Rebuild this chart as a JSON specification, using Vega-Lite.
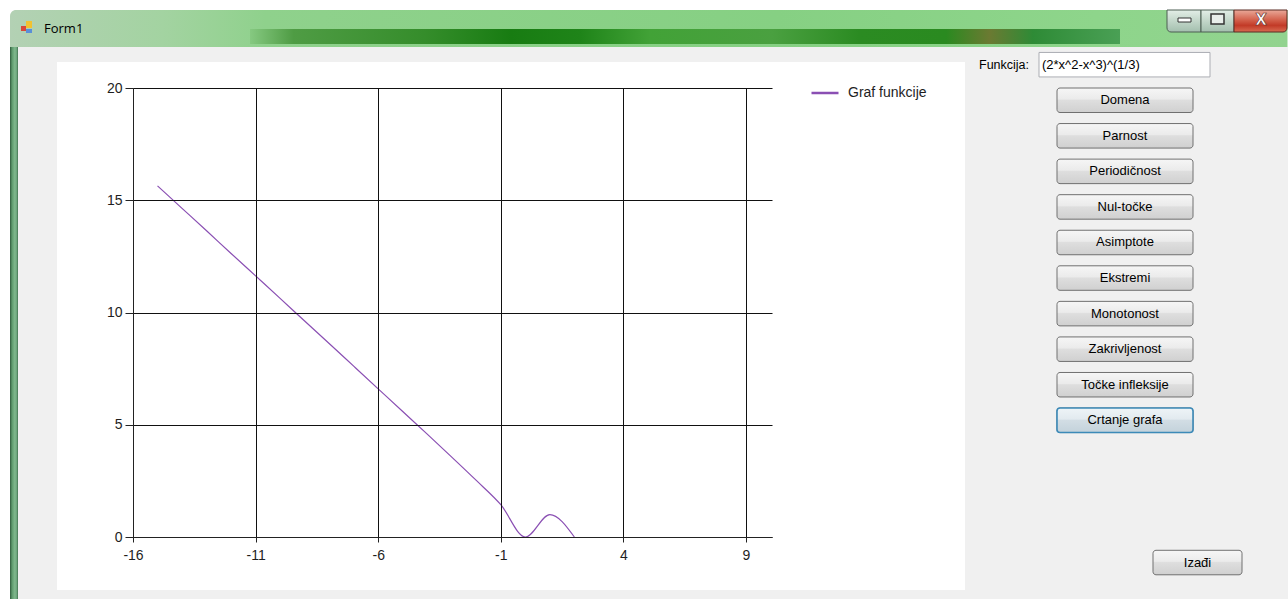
{
  "$schema": "https://vega.github.io/schema/vega-lite/v6.json",
  "background": "#f0f0f0",
  "padding": 0,
  "spacing": 0,
  "resolve": {"scale": {"color": "independent"}, "legend": {"color": "independent"}},
  "config": {
    "view": {"stroke": null},
    "font": "Liberation Sans",
    "concat": {"spacing": 0},
    "axis": {"grid": true, "gridColor": "#111111", "gridOpacity": 1, "gridWidth": 1, "domainColor": "#222222", "domainWidth": 1, "tickColor": "#222222", "labelFont": "Liberation Sans", "labelFontSize": 14, "labelColor": "#1e1e1e"},
    "axisX": {"tickSize": 5, "labelPadding": 6, "labelFlush": false},
    "axisY": {"tickSize": 8, "labelPadding": 3},
    "legend": {"padding": 0, "labelFont": "Liberation Sans", "labelFontSize": 14, "labelColor": "#1e1e1e", "symbolType": "stroke", "symbolSize": 729, "symbolStrokeWidth": 2.5, "labelOffset": 8}
  },
  "datasets": {
    "curve": [
      {"x": -15, "y": 15.64, "series": "Graf funkcije"},
      {"x": -14, "y": 14.64, "series": "Graf funkcije"},
      {"x": -13, "y": 13.64, "series": "Graf funkcije"},
      {"x": -12, "y": 12.63, "series": "Graf funkcije"},
      {"x": -11, "y": 11.63, "series": "Graf funkcije"},
      {"x": -10, "y": 10.63, "series": "Graf funkcije"},
      {"x": -9, "y": 9.62, "series": "Graf funkcije"},
      {"x": -8, "y": 8.62, "series": "Graf funkcije"},
      {"x": -7, "y": 7.61, "series": "Graf funkcije"},
      {"x": -6, "y": 6.6, "series": "Graf funkcije"},
      {"x": -5, "y": 5.59, "series": "Graf funkcije"},
      {"x": -4, "y": 4.58, "series": "Graf funkcije"},
      {"x": -3, "y": 3.56, "series": "Graf funkcije"},
      {"x": -2, "y": 2.52, "series": "Graf funkcije"},
      {"x": -1, "y": 1.44, "series": "Graf funkcije"},
      {"x": 0, "y": 0, "series": "Graf funkcije"},
      {"x": 1, "y": 1, "series": "Graf funkcije"},
      {"x": 2, "y": 0, "series": "Graf funkcije"}
    ],
    "buttons": [
      {"item": "Domena"},
      {"item": "Parnost"},
      {"item": "Periodičnost"},
      {"item": "Nul-točke"},
      {"item": "Asimptote"},
      {"item": "Ekstremi"},
      {"item": "Monotonost"},
      {"item": "Zakrivljenost"},
      {"item": "Točke infleksije"},
      {"item": "Crtanje grafa"}
    ]
  },
  "vconcat": [
    {
      "width": 1155,
      "height": 47,
      "view": {"stroke": null},
      "data": {"values": [{"part": "window"}]},
      "layer": [
        {
          "mark": {"type": "rect", "fill": "#ffffff"},
          "encoding": {
            "x": {"datum": 0, "type": "quantitative", "scale": {"domain": [133, 1288], "nice": false, "zero": false}, "axis": null},
            "x2": {"datum": 1288},
            "y": {"datum": 0, "type": "quantitative", "scale": {"domain": [0, 47], "reverse": true, "nice": false, "zero": false}, "axis": null},
            "y2": {"datum": 47}
          }
        },
        {
          "mark": {"type": "rect", "cornerRadiusTopLeft": 6, "fill": {"gradient": "linear", "x1": 0, "y1": 0, "x2": 1, "y2": 0, "stops": [{"offset": 0, "color": "#b3d1b4"}, {"offset": 0.12, "color": "#a3d3a1"}, {"offset": 0.2, "color": "#8fd18c"}, {"offset": 0.6, "color": "#86d083"}, {"offset": 0.85, "color": "#8ed58b"}, {"offset": 1, "color": "#92d38f"}]}},
          "encoding": {
            "x": {"datum": 10, "type": "quantitative"},
            "x2": {"datum": 1287.5},
            "y": {"datum": 10, "type": "quantitative"},
            "y2": {"datum": 47}
          }
        },
        {
          "mark": {"type": "rect", "fill": {"gradient": "linear", "x1": 0, "y1": 0, "x2": 1, "y2": 0, "stops": [{"offset": 0, "color": "#86c981"}, {"offset": 0.05, "color": "#4f9c44"}, {"offset": 0.2, "color": "#358d2b"}, {"offset": 0.3, "color": "#187c12"}, {"offset": 0.38, "color": "#1f8419"}, {"offset": 0.46, "color": "#42a237"}, {"offset": 0.6, "color": "#4aa040"}, {"offset": 0.7, "color": "#2b8b22"}, {"offset": 0.8, "color": "#2a8a20"}, {"offset": 0.85, "color": "#6b7a32"}, {"offset": 0.9, "color": "#2e8b36"}, {"offset": 1, "color": "#4aa055"}]}},
          "encoding": {
            "x": {"datum": 250, "type": "quantitative"},
            "x2": {"datum": 1120},
            "y": {"datum": 29, "type": "quantitative"},
            "y2": {"datum": 44}
          }
        },
        {
          "mark": {"type": "rect", "fill": "#f2c230"},
          "encoding": {"x": {"datum": 26, "type": "quantitative"}, "x2": {"datum": 32}, "y": {"datum": 21, "type": "quantitative"}, "y2": {"datum": 28}}
        },
        {
          "mark": {"type": "rect", "fill": "#d8473a"},
          "encoding": {"x": {"datum": 21, "type": "quantitative"}, "x2": {"datum": 26}, "y": {"datum": 26, "type": "quantitative"}, "y2": {"datum": 31}}
        },
        {
          "mark": {"type": "rect", "fill": "#5a8fd8"},
          "encoding": {"x": {"datum": 26, "type": "quantitative"}, "x2": {"datum": 32}, "y": {"datum": 29, "type": "quantitative"}, "y2": {"datum": 33}}
        },
        {
          "mark": {"type": "text", "align": "left", "baseline": "middle", "font": "Open Sans", "fontSize": 13, "color": "#000000"},
          "encoding": {"x": {"datum": 44, "type": "quantitative"}, "y": {"datum": 29, "type": "quantitative"}, "text": {"value": "Form1"}}
        },
        {
          "mark": {"type": "rect", "cornerRadiusBottomLeft": 4, "stroke": "#4c5e52", "strokeWidth": 1, "fill": {"gradient": "linear", "x1": 0, "y1": 0, "x2": 0, "y2": 1, "stops": [{"offset": 0, "color": "#e3eee7"}, {"offset": 0.5, "color": "#c2d6c9"}, {"offset": 1, "color": "#a3bfae"}]}},
          "encoding": {"x": {"datum": 1167, "type": "quantitative"}, "x2": {"datum": 1201}, "y": {"datum": 10, "type": "quantitative"}, "y2": {"datum": 32}}
        },
        {
          "mark": {"type": "rect", "stroke": "#4c5e52", "strokeWidth": 1, "fill": {"gradient": "linear", "x1": 0, "y1": 0, "x2": 0, "y2": 1, "stops": [{"offset": 0, "color": "#e3eee7"}, {"offset": 0.5, "color": "#c2d6c9"}, {"offset": 1, "color": "#a3bfae"}]}},
          "encoding": {"x": {"datum": 1201, "type": "quantitative"}, "x2": {"datum": 1234}, "y": {"datum": 10, "type": "quantitative"}, "y2": {"datum": 32}}
        },
        {
          "mark": {"type": "rect", "cornerRadiusBottomRight": 4, "stroke": "#5a2a22", "strokeWidth": 1, "fill": {"gradient": "linear", "x1": 0, "y1": 0, "x2": 0, "y2": 1, "stops": [{"offset": 0, "color": "#eaa999"}, {"offset": 0.45, "color": "#d3614c"}, {"offset": 0.7, "color": "#c23a27"}, {"offset": 1, "color": "#d86c52"}]}},
          "encoding": {"x": {"datum": 1234, "type": "quantitative"}, "x2": {"datum": 1287}, "y": {"datum": 10, "type": "quantitative"}, "y2": {"datum": 32}}
        },
        {
          "mark": {"type": "rect", "fill": "#ffffff", "stroke": "#333333", "strokeWidth": 1},
          "encoding": {"x": {"datum": 1178, "type": "quantitative"}, "x2": {"datum": 1191}, "y": {"datum": 18, "type": "quantitative"}, "y2": {"datum": 22}}
        },
        {
          "mark": {"type": "rect", "fill": "#e8eeea", "stroke": "#333333", "strokeWidth": 1.5},
          "encoding": {"x": {"datum": 1211, "type": "quantitative"}, "x2": {"datum": 1224}, "y": {"datum": 14, "type": "quantitative"}, "y2": {"datum": 24}}
        },
        {
          "mark": {"type": "text", "align": "center", "baseline": "middle", "font": "DejaVu Sans", "fontSize": 15, "fontWeight": "bold", "color": "#ffffff", "stroke": "#5a2a22", "strokeWidth": 0.6},
          "encoding": {"x": {"datum": 1261, "type": "quantitative"}, "y": {"datum": 20, "type": "quantitative"}, "text": {"value": "X"}}
        }
      ]
    },
    {
      "resolve": {"scale": {"color": "independent"}, "legend": {"color": "independent"}},
      "hconcat": [
        {
          "width": 639,
          "height": 449,
          "layer": [
            {
              "data": {"values": [{"part": "outside"}]},
              "mark": {"type": "rect", "fill": "#ffffff"},
              "encoding": {
                "x": {"datum": -21.424, "type": "quantitative", "scale": {"domain": [-16, 10.06], "nice": false, "zero": false}, "title": null},
                "x2": {"datum": -21.016},
                "y": {"datum": 21.826, "type": "quantitative", "scale": {"domain": [0, 20], "nice": false, "zero": false}, "title": null},
                "y2": {"datum": -2.762}
              }
            },
            {
              "data": {"values": [{"part": "left frame"}]},
              "mark": {"type": "rect", "fill": {"gradient": "linear", "x1": 0, "y1": 0, "x2": 1, "y2": 0, "stops": [{"offset": 0, "color": "#2f5a3c"}, {"offset": 0.25, "color": "#5d9a6c"}, {"offset": 0.6, "color": "#7fb88c"}, {"offset": 0.85, "color": "#6aa37a"}, {"offset": 1, "color": "#3d6e4a"}]}},
              "encoding": {
                "x": {"datum": -21.016, "type": "quantitative", "scale": {"domain": [-16, 10.06], "nice": false, "zero": false}, "title": null},
                "x2": {"datum": -20.69},
                "y": {"datum": 21.826, "type": "quantitative", "scale": {"domain": [0, 20], "nice": false, "zero": false}, "title": null},
                "y2": {"datum": -2.762}
              }
            },
            {
              "data": {"values": [{"part": "chart area"}]},
              "mark": {"type": "rect", "fill": "#ffffff"},
              "encoding": {
                "x": {"datum": -19.1, "type": "quantitative", "scale": {"domain": [-16, 10.06], "nice": false, "zero": false}, "title": null},
                "x2": {"datum": 17.93},
                "y": {"datum": 21.158, "type": "quantitative", "scale": {"domain": [0, 20], "nice": false, "zero": false}, "title": null},
                "y2": {"datum": -2.361}
              }
            },
            {
              "data": {"name": "curve"},
              "mark": {"type": "line", "interpolate": "monotone", "strokeWidth": 1.2},
              "encoding": {
                "x": {"field": "x", "type": "quantitative", "scale": {"domain": [-16, 10.06], "nice": false, "zero": false}, "title": null, "axis": {"zindex": 1, "values": [-16, -11, -6, -1, 4, 9], "labelExpr": "'' + datum.value", "labelFlush": false}},
                "y": {"field": "y", "type": "quantitative", "scale": {"domain": [0, 20], "nice": false, "zero": false}, "title": null, "axis": {"zindex": 1, "values": [0, 5, 10, 15, 20], "labelExpr": "'' + datum.value"}},
                "color": {"field": "series", "type": "nominal", "scale": {"range": ["#8a4fb3"]}, "legend": {"orient": "right", "offset": 38, "clipHeight": 10, "title": null}}
              }
            }
          ]
        },
        {
          "width": 323,
          "height": 449,
          "view": {"stroke": null},
          "layer": [
            {
              "data": {"values": [{"item": "Funkcija:", "expr": "(2*x^2-x^3)^(1/3)"}]},
              "mark": {"type": "rect", "fill": "#ffffff", "stroke": "#abadb3", "strokeWidth": 1},
              "encoding": {
                "x": {"datum": 74, "type": "quantitative", "scale": {"domain": [0, 323], "nice": false, "zero": false}, "axis": null},
                "x2": {"datum": 245},
                "y": {"field": "item", "type": "nominal", "axis": null, "scale": {"domain": ["Funkcija:", "Domena", "Parnost", "Periodičnost", "Nul-točke", "Asimptote", "Ekstremi", "Monotonost", "Zakrivljenost", "Točke infleksije", "Crtanje grafa", "_1", "_2", "_3", "Izađi"], "range": [-41, 511], "paddingInner": 0.311, "paddingOuter": 0.417, "align": 0.1835}}
              }
            },
            {
              "data": {"values": [{"item": "Funkcija:", "expr": "(2*x^2-x^3)^(1/3)"}]},
              "mark": {"type": "text", "align": "left", "baseline": "middle", "fontSize": 13, "color": "#000000"},
              "encoding": {
                "x": {"datum": 77, "type": "quantitative"},
                "y": {"field": "item", "type": "nominal"},
                "text": {"field": "expr"}
              }
            },
            {
              "data": {"values": [{"item": "Funkcija:"}]},
              "mark": {"type": "text", "align": "left", "baseline": "middle", "fontSize": 12.5, "color": "#000000"},
              "encoding": {
                "x": {"datum": 14, "type": "quantitative"},
                "y": {"field": "item", "type": "nominal"},
                "text": {"field": "item"}
              }
            },
            {
              "data": {"name": "buttons"},
              "mark": {"type": "rect", "cornerRadius": 3, "stroke": "#707070", "strokeWidth": 1, "fill": {"gradient": "linear", "x1": 0, "y1": 0, "x2": 0, "y2": 1, "stops": [{"offset": 0, "color": "#f6f6f6"}, {"offset": 0.45, "color": "#ebebeb"}, {"offset": 0.5, "color": "#dedede"}, {"offset": 1, "color": "#d0d0d0"}]}},
              "encoding": {
                "x": {"datum": 92, "type": "quantitative"},
                "x2": {"datum": 228},
                "y": {"field": "item", "type": "nominal"}
              }
            },
            {
              "data": {"name": "buttons"},
              "transform": [{"filter": "datum.item === 'Crtanje grafa'"}],
              "mark": {"type": "rect", "cornerRadius": 3, "stroke": "#3c8ab8", "strokeWidth": 1.6, "fill": {"gradient": "linear", "x1": 0, "y1": 0, "x2": 0, "y2": 1, "stops": [{"offset": 0, "color": "#eef4f7"}, {"offset": 0.45, "color": "#e2eaef"}, {"offset": 0.5, "color": "#d2dde4"}, {"offset": 1, "color": "#c3d2db"}]}},
              "encoding": {
                "x": {"datum": 92, "type": "quantitative"},
                "x2": {"datum": 228},
                "y": {"field": "item", "type": "nominal"}
              }
            },
            {
              "data": {"name": "buttons"},
              "mark": {"type": "text", "align": "center", "baseline": "middle", "fontSize": 13, "color": "#000000"},
              "encoding": {
                "x": {"datum": 160, "type": "quantitative"},
                "y": {"field": "item", "type": "nominal"},
                "text": {"field": "item"}
              }
            },
            {
              "data": {"values": [{"item": "Izađi"}]},
              "mark": {"type": "rect", "cornerRadius": 3, "stroke": "#707070", "strokeWidth": 1, "fill": {"gradient": "linear", "x1": 0, "y1": 0, "x2": 0, "y2": 1, "stops": [{"offset": 0, "color": "#f6f6f6"}, {"offset": 0.45, "color": "#ebebeb"}, {"offset": 0.5, "color": "#dedede"}, {"offset": 1, "color": "#d0d0d0"}]}},
              "encoding": {
                "x": {"datum": 188, "type": "quantitative"},
                "x2": {"datum": 277},
                "y": {"field": "item", "type": "nominal"}
              }
            },
            {
              "data": {"values": [{"item": "Izađi"}]},
              "mark": {"type": "text", "align": "center", "baseline": "middle", "fontSize": 13, "color": "#000000"},
              "encoding": {
                "x": {"datum": 232.5, "type": "quantitative"},
                "y": {"field": "item", "type": "nominal"},
                "text": {"field": "item"}
              }
            }
          ]
        }
      ]
    }
  ]
}
